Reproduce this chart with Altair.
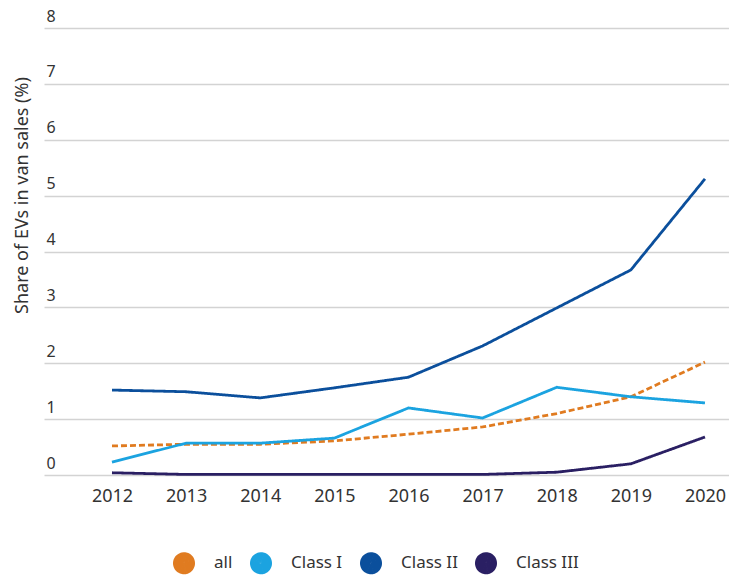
import altair as alt
import pandas as pd

years = [2012, 2013, 2014, 2015, 2016, 2017, 2018, 2019, 2020]
series_names = ["all", "Class I", "Class II", "Class III"]
all_share = [0.52, 0.55, 0.55, 0.61, 0.73, 0.86, 1.10, 1.40, 2.02]
class1_share = [0.23, 0.57, 0.57, 0.66, 1.20, 1.02, 1.57, 1.40, 1.29]
class2_share = [1.52, 1.49, 1.38, 1.56, 1.75, 2.31, 2.99, 3.67, 5.30]
class3_share = [0.04, 0.01, 0.01, 0.01, 0.01, 0.01, 0.05, 0.20, 0.68]
colors = ["#e07b20", "#1ba3e0", "#0b4f9c", "#2a1f63"]
y_ticks = [0, 1, 2, 3, 4, 5, 6, 7, 8]

rows = []
for name, vals in zip(series_names, [all_share, class1_share, class2_share, class3_share]):
    for yr, v in zip(years, vals):
        rows.append({"year": yr, "series": name, "value": v})
df = pd.DataFrame(rows)

W, H = 685, 447
FONT = "Noto Sans"

chart = alt.Chart(df).mark_line(strokeWidth=2.8).encode(
    x=alt.X(
        "year:Q",
        scale=alt.Scale(domain=[2011.083, 2020.324], nice=False, zero=False),
        axis=alt.Axis(values=years, format="d", title=None, grid=False, domain=False,
                      ticks=False, tickSize=0, labelPadding=12, labelFontSize=18,
                      labelColor="#333333", labelFont=FONT),
    ),
    y=alt.Y(
        "value:Q",
        scale=alt.Scale(domain=[0, 8], nice=False),
        axis=alt.Axis(values=y_ticks, title="Share of EVs in van sales (%)", grid=True,
                      gridColor="#d3d3d3", gridWidth=1.5, domain=False, ticks=False,
                      tickSize=0, labelAlign="left", labelBaseline="alphabetic",
                      labelPadding=-2, labelOffset=-7, labelFontSize=16,
                      labelColor="#333333", labelFont=FONT,
                      titleX=-13, titleY=167, titleAngle=270, titleBaseline="bottom",
                      titleFontSize=18, titleFontWeight="normal", titleColor="#333333",
                      titleFont=FONT),
    ),
    color=alt.Color(
        "series:N",
        scale=alt.Scale(domain=series_names, range=colors),
        legend=alt.Legend(orient="none", legendX=129, legendY=524, direction="horizontal",
                          title=None, symbolType="circle", symbolSize=121,
                          symbolStrokeWidth=11, symbolDash=[1, 0], labelFontSize=17,
                          labelFont=FONT, labelColor="#333333", labelOffset=19,
                          columnPadding=0),
    ),
    strokeDash=alt.condition(alt.datum.series == "all", alt.value([6, 3]), alt.value([1, 0])),
).properties(
    width=W, height=H, padding={"left": 4, "top": 0, "right": 0, "bottom": 0}
).configure_view(stroke=None)

chart.save("out.html", embed_options={"renderer": "svg", "actions": False})
